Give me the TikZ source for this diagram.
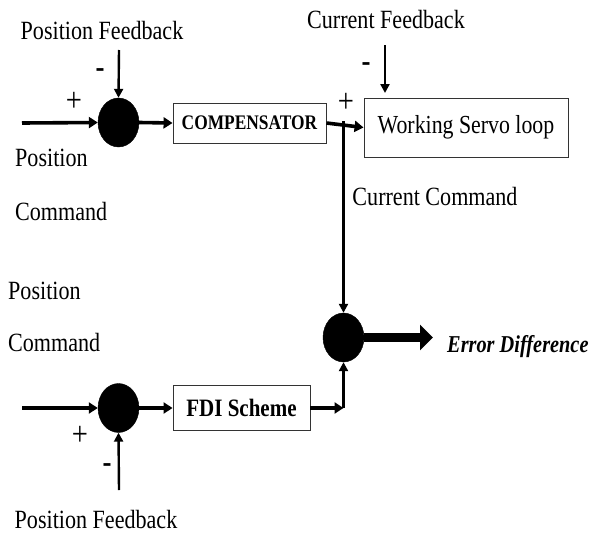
\documentclass[tikz,border=0pt]{standalone}
\usepackage{fontspec}
\setmainfont{Liberation Serif}[FakeStretch=0.84]
\usetikzlibrary{shapes.geometric,arrows.meta}
\begin{document}
\begin{tikzpicture}[x=1pt,y=-1pt,
  lbl/.style={font=\fontsize{26.3}{29}\selectfont, inner sep=0pt},
  sign/.style={font=\fontsize{34}{36}\selectfont, inner sep=0pt},
  minus/.style={font=\fontsize{32}{34}\selectfont\bfseries, inner sep=0pt},
  summer/.style={ellipse, fill=black, draw=black, minimum width=41pt, minimum height=49pt, inner sep=0pt},
  blockbox/.style={draw=black!80, line width=0.9pt, rectangle, inner sep=0pt},
  sig/.style={line width=3.6pt, -{Triangle[length=9pt,width=11pt]}},
  fbk/.style={line width=2.4pt, -{Triangle[length=9pt,width=9pt]}},
  wire/.style={line width=2.6pt}
]
\useasboundingbox (0,0) rectangle (590,536);

% summing junctions
\node[summer] (s1) at (118.5,122.5) {};
\node[summer] (s2) at (343.5,337.5) {};
\node[summer] (s3) at (118.5,408) {};

% blocks
\node[blockbox, minimum width=153pt, minimum height=40pt] (comp) at (249.5,123)
  {\fontsize{20.7}{23}\selectfont\bfseries COMPENSATOR};
\node[blockbox, minimum width=204pt, minimum height=59pt] (ws) at (466,127.5)
  {\fontsize{26}{29}\selectfont Working Servo loop};
\node[blockbox, minimum width=137pt, minimum height=45pt] (fdi) at (241.5,408)
  {\fontsize{25}{28}\selectfont\bfseries FDI Scheme};

% free ends
\coordinate (in1) at (22,123);
\coordinate (fb1) at (119,50);
\coordinate (cf) at (385,45);
\coordinate (cfend) at (385,93);
\coordinate (j1) at (343.5,121);
\coordinate (in3) at (22,408);
\coordinate (fb3) at (119,490);
\coordinate (j2) at (343.5,408);
\coordinate (out) at (433,337.5);

% upper loop
\draw[sig] (in1) -- (s1.west);
\draw[fbk] (fb1) -- (s1.north);
\draw[sig] (s1.east) -- (comp.west);
\draw[sig] (comp.east) -- (ws.west);
\draw[fbk] (cf) -- (cfend);
\draw[wire, -{Triangle[length=9pt,width=9pt]}] (j1) -- (s2.north);

% lower loop
\draw[sig] (in3) -- (s3.west);
\draw[fbk] (fb3) -- (s3.south);
\draw[sig] (s3.east) -- (fdi.west);
\draw[sig] (fdi.east) -- (j2);
\draw[wire, -{Triangle[length=9pt,width=9pt]}] (j2) -- (s2.south);

% residual output
\draw[line width=9pt, -{Triangle[length=13pt,width=25pt]}] (s2.east) -- (out);

% labels
\node[lbl] (pf1) at (102,31) {Position Feedback};
\node[minus] (m1) at (100,73) {-};
\node[sign] (p1) at (74,102) {+};
\node[lbl, anchor=west] (pc1a) at (15,158) {Position};
\node[lbl, anchor=west] (pc1b) at (15,212) {Command};

\node[lbl] (cfl) at (386,20) {Current Feedback};
\node[minus] (m2) at (366,67) {-};
\node[sign] (p2) at (346,103) {+};
\node[lbl] (ccl) at (435,197) {Current Command};

\node[lbl, anchor=west] (pc3a) at (8,291) {Position};
\node[lbl, anchor=west] (pc3b) at (8,343) {Command};
\node[sign] (p3) at (80,436) {+};
\node[minus] (m3) at (107,468) {-};
\node[lbl] (pf3) at (96,519) {Position Feedback};

\node[anchor=west, inner sep=0pt, font=\fontsize{24.2}{27}\selectfont\bfseries\itshape] (err) at (447,347) {Error Difference};
\end{tikzpicture}
\end{document}
